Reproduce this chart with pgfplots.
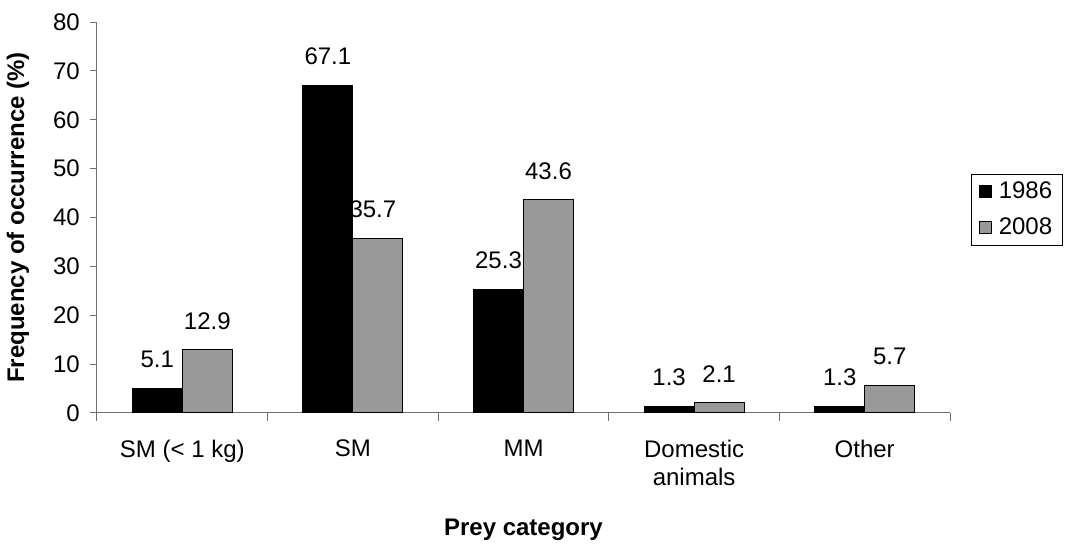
\documentclass[border=0pt]{standalone}
\usepackage{pgfplots}
\pgfplotsset{compat=1.18}
\usepackage{pgfplotstable}
\usepackage{fontspec}
\setmainfont{Liberation Sans}
\definecolor{bargray}{HTML}{999999}
\definecolor{axisgray}{HTML}{707070}
\pgfplotstableread{
x y dx
0 5.1 0
1 67.1 0
2 25.3 0
3 1.3 0
4 1.3 0
}\dataA
\pgfplotstableread{
x y dx
0 12.9 0
1 35.7 -5
2 43.6 0
3 2.1 0
4 5.7 0
}\dataB
\begin{document}
\fontsize{24}{28}\selectfont
\begin{tikzpicture}
\begin{axis}[
  scale only axis,
  width=853pt, height=391pt,
  at={(0,0)}, anchor=south west,
  ybar=0pt, bar width=50pt,
  xmin=-0.5, xmax=4.5, ymin=0, ymax=80,
  ytick={0,10,...,80},
  xtick={0,1,2,3,4},
  xticklabels={SM (< 1 kg),SM,MM,Domestic\\animals,Other},
  xticklabel style={align=center, text depth=0pt, yshift=-12pt},
  major x tick style={draw=none},
  minor xtick={-0.5,0.5,1.5,2.5,3.5,4.5},
  minor x tick style={draw=axisgray, line width=1pt},
  minor tick length=8pt,
  major tick length=7pt,
  tick align=outside,
  axis x line*=bottom, axis y line*=left,
  axis line style={draw=axisgray, line width=1pt, -},
  y tick style={draw=axisgray, line width=1pt},
  yticklabel style={xshift=-2pt},
  tick label style={font=\fontsize{24}{28}\selectfont},
  /pgf/number format/assume math mode=true,
  every axis y label/.style={at={(axis description cs:-0.0927,0.5)}, rotate=90, anchor=center},
  every axis x label/.style={at={(axis description cs:0.5,0)}, yshift=-117pt, anchor=center},
  ylabel={\bfseries Frequency of occurrence (\%)},
  xlabel={\bfseries Prey category},
  label style={font=\fontsize{24}{28}\selectfont\bfseries},
  nodes near coords,
  visualization depends on={\thisrow{dx}\as\dx},
  nodes near coords style={font=\fontsize{24}{28}\selectfont, anchor=south, xshift=\dx pt, inner sep=0pt, yshift=20pt, /pgf/number format/fixed, /pgf/number format/precision=1, /pgf/number format/fixed zerofill},
  legend style={at={(rel axis cs:1.0246,0.52)}, anchor=west, draw=black, line width=0.8pt, font=\fontsize{24}{28}\selectfont, inner xsep=8pt, inner ysep=5pt, row sep=12pt, legend cell align=left},
  legend image code/.code={\draw[#1, line width=0.8pt] (0pt,-6pt) rectangle (12pt,6pt); \path[draw=none, fill=none] (0pt,0pt) -- (17pt,0pt);},
  clip=false,
]
\addplot[draw=black, fill=black, line width=1pt] table[x=x,y=y] {\dataA};
\addplot[draw=black, fill=bargray, line width=1pt] table[x=x,y=y] {\dataB};
\legend{1986,2008}
\end{axis}
\pgfresetboundingbox
\useasboundingbox (-97pt,-135pt) rectangle (970pt,413pt);
\end{tikzpicture}
\end{document}
